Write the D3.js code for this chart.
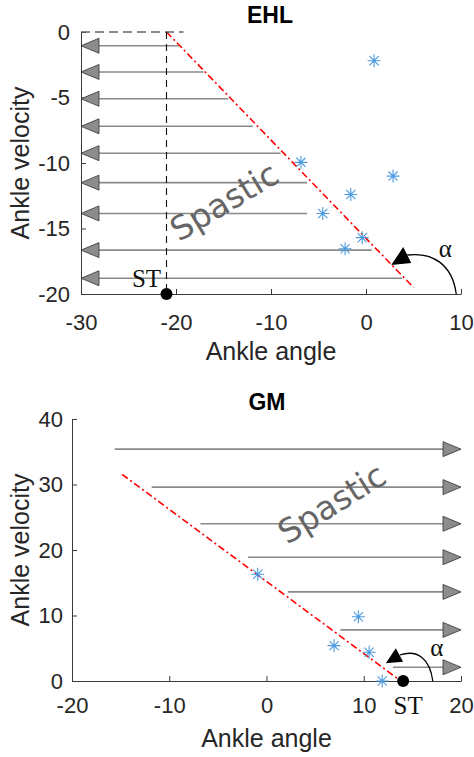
<!DOCTYPE html>
<html>
<head>
<meta charset="utf-8">
<script src="https://cdn.jsdelivr.net/npm/d3@7"></script>
<style>
    body { margin: 0; background: #fff; }
    .tick text { font-family: "Liberation Sans", Arial, sans-serif; font-size: 22px; fill: #262626; }
    .tick line, .domain { stroke: #3a3a3a; stroke-width: 1; }
    .ax-label { font-family: "Liberation Sans", Arial, sans-serif; font-size: 25px; fill: #262626; }
    .title { font-family: "Liberation Sans", Arial, sans-serif; font-size: 23px; font-weight: bold; fill: #000; }
    .spastic { font-family: "DejaVu Sans", sans-serif; font-size: 33px; fill: #666; }
    .serif { font-family: "Liberation Serif", "Times New Roman", serif; font-size: 25px; fill: #111; }
</style>
</head>
<body>
<div id="chart"></div>
<script>
// EHL panel
const ehlArrowY = [-1.05, -3.05, -5.1, -7.2, -9.25, -11.5, -13.85, -16.65, -18.8];
const ehlArrowStart = [-19.7, -17.1, -14.5, -11.9, -9.0, -6.2, -6.2, 0.6, 3.8];
const ehlPointsX = [0.85, -6.85, 2.85, -1.6, -4.55, -0.4, -2.2];
const ehlPointsY = [-2.2, -9.95, -11.0, -12.4, -13.85, -15.7, -16.55];
const ehlLineX = [-21, 5];
const ehlLineY = [0, -19.5];
const ehlST = [-21, -20];
const ehlXTicks = [-30, -20, -10, 0, 10];
const ehlYTicks = [-20, -15, -10, -5, 0];

// GM panel
const gmArrowY = [35.4, 29.6, 24.0, 18.9, 13.6, 7.8, 2.1];
const gmArrowStart = [-15.6, -11.8, -6.8, -1.9, 2.2, 7.6, 13.0];
const gmPointsX = [-0.9, 9.45, 6.95, 10.55, 11.9];
const gmPointsY = [16.3, 9.8, 5.4, 4.4, 0];
const gmLineX = [-14.85, 13.4];
const gmLineY = [31.55, 0.45];
const gmST = [14.05, 0];
const gmXTicks = [-20, -10, 0, 10, 20];
const gmYTicks = [0, 10, 20, 30, 40];

const W = 474, H = 757;
const blue = "#4a9ae0";

const svg = d3.select("#chart").append("svg")
    .attr("width", W)
    .attr("height", H);

const asterisk = function(g, cx, cy, r){
    const p = d3.path();
    const d = r * Math.SQRT1_2;
    p.moveTo(cx - r, cy); p.lineTo(cx + r, cy);
    p.moveTo(cx, cy - r); p.lineTo(cx, cy + r);
    p.moveTo(cx - d, cy - d); p.lineTo(cx + d, cy + d);
    p.moveTo(cx - d, cy + d); p.lineTo(cx + d, cy - d);
    g.append("path").attr("d", p.toString())
        .attr("stroke", blue).attr("stroke-width", 1.1).attr("fill", "none");
}

const drawPanel = function(opt){
    const x = d3.scaleLinear().domain(opt.xDomain).range(opt.xRange);
    const y = d3.scaleLinear().domain(opt.yDomain).range(opt.yRange);
    const g = svg.append("g");

    g.append("g")
        .attr("transform", `translate(0,${opt.yRange[0]})`)
        .call(d3.axisBottom(x).tickValues(opt.xTicks).tickFormat(d => String(d))
            .tickSizeInner(-5).tickSizeOuter(0).tickPadding(opt.xPad));

    g.append("g")
        .attr("transform", `translate(${opt.xRange[0]},0)`)
        .call(d3.axisLeft(y).tickValues(opt.yTicks).tickFormat(d => String(d))
            .tickSizeInner(-5).tickSizeOuter(0).tickPadding(opt.yPad));

    // arrows
    const dir = opt.arrowDir;
    const tipX = x(opt.arrowTip);
    opt.arrowY.forEach((v, i) => {
        const yy = y(v);
        g.append("line")
            .attr("x1", x(opt.arrowStart[i])).attr("x2", tipX - dir * 10)
            .attr("y1", yy).attr("y2", yy)
            .attr("stroke", "#8a8a8a").attr("stroke-width", 1.6);
        g.append("path")
            .attr("d", `M${tipX},${yy}L${tipX - dir * 18},${yy - 7.5}L${tipX - dir * 18},${yy + 7.5}Z`)
            .attr("fill", "#8c8c8c").attr("stroke", "#333").attr("stroke-width", 0.8);
    });

    // threshold line
    g.append("line")
        .attr("x1", x(opt.lineX[0])).attr("y1", y(opt.lineY[0]))
        .attr("x2", x(opt.lineX[1])).attr("y2", y(opt.lineY[1]))
        .attr("stroke", "#ff0000").attr("stroke-width", 1.6)
        .attr("stroke-dasharray", "7,3,2,3");

    // points
    opt.pointsX.forEach((v, i) => asterisk(g, x(v), y(opt.pointsY[i]), 6.5));

    // spastic label
    g.append("text")
        .attr("class", "spastic")
        .attr("text-anchor", "middle")
        .attr("transform", `translate(${x(opt.spastic[0])},${y(opt.spastic[1])}) rotate(${opt.spastic[2]})`)
        .text("Spastic");

    // ST
    const sx = x(opt.st[0]), sy = y(opt.st[1]);
    g.append("circle").attr("cx", sx).attr("cy", sy).attr("r", 6).attr("fill", "#000");
    g.append("text").attr("class", "serif").attr("text-anchor", "middle")
        .attr("x", sx + opt.stText[0]).attr("y", sy + opt.stText[1]).text("ST");

    // alpha arc
    const ax = x(opt.alpha.at[0]), ay = y(opt.alpha.at[1]);
    const c = opt.alpha.curve, h = opt.alpha.head;
    g.append("path")
        .attr("d", `M${ax},${ay}C${ax + c[0]},${ay + c[1]} ${ax + c[2]},${ay + c[3]} ${ax + c[4]},${ay + c[5]}`)
        .attr("fill", "none").attr("stroke", "#000").attr("stroke-width", 1.3);
    g.append("path")
        .attr("d", `M${ax + h[0]},${ay + h[1]}L${ax + h[2]},${ay + h[3]}L${ax + h[4]},${ay + h[5]}Z`)
        .attr("fill", "#000");
    g.append("text").attr("class", "serif").attr("text-anchor", "middle")
        .attr("x", ax + opt.alpha.text[0]).attr("y", ay + opt.alpha.text[1]).text("α");

    // labels
    g.append("text").attr("class", "title").attr("text-anchor", "middle")
        .attr("x", opt.title[1]).attr("y", opt.title[2]).text(opt.title[0]);
    g.append("text").attr("class", "ax-label").attr("text-anchor", "middle")
        .attr("x", (opt.xRange[0] + opt.xRange[1]) / 2).attr("y", opt.xLabelY).text("Ankle angle");
    g.append("text").attr("class", "ax-label").attr("text-anchor", "middle")
        .attr("transform", `translate(29,${(opt.yRange[0] + opt.yRange[1]) / 2}) rotate(-90)`)
        .text("Ankle velocity");

    return {g, x, y};
}

// EHL
const ehl = drawPanel({
    xDomain: [-30, 10], xRange: [81, 461],
    yDomain: [-20, 0], yRange: [294, 32],
    xTicks: ehlXTicks, yTicks: ehlYTicks, xPad: 20, yPad: 11,
    arrowY: ehlArrowY, arrowStart: ehlArrowStart, arrowTip: -30, arrowDir: -1,
    lineX: ehlLineX, lineY: ehlLineY,
    pointsX: ehlPointsX, pointsY: ehlPointsY,
    spastic: [-14.3, -13.7, -31],
    st: ehlST, stText: [-20, -7],
    alpha: {at: [9.5, -20], curve: [-4, -30, -24, -42, -49, -39], head: [-65, -29, -53, -47, -45, -31], text: [-11, -37]},
    title: ["EHL", 270, 23], xLabelY: 360
});

// dashed guides for EHL
ehl.g.append("line")
    .attr("x1", ehl.x(-30)).attr("x2", ehl.x(-19.2))
    .attr("y1", ehl.y(0)).attr("y2", ehl.y(0))
    .attr("stroke", "#666").attr("stroke-width", 1.3).attr("stroke-dasharray", "9,5");
ehl.g.append("line")
    .attr("x1", ehl.x(ehlST[0])).attr("x2", ehl.x(ehlST[0]))
    .attr("y1", ehl.y(0)).attr("y2", ehl.y(-20))
    .attr("stroke", "#111").attr("stroke-width", 1.1).attr("stroke-dasharray", "7,5");

// GM
drawPanel({
    xDomain: [-20, 20], xRange: [72, 461],
    yDomain: [0, 40], yRange: [681, 419],
    xTicks: gmXTicks, yTicks: gmYTicks, xPad: 16, yPad: 9,
    arrowY: gmArrowY, arrowStart: gmArrowStart, arrowTip: 20, arrowDir: 1,
    lineX: gmLineX, lineY: gmLineY,
    pointsX: gmPointsX, pointsY: gmPointsY,
    spastic: [7.35, 25.6, -32],
    st: gmST, stText: [5, 33],
    alpha: {at: [17.1, 0], curve: [-3, -22, -15, -32, -33, -26], head: [-47, -17.7, -37, -32.7, -29.7, -19.3], text: [4, -25]},
    title: ["GM", 267, 410], xLabelY: 747
});
</script>
</body>
</html>
